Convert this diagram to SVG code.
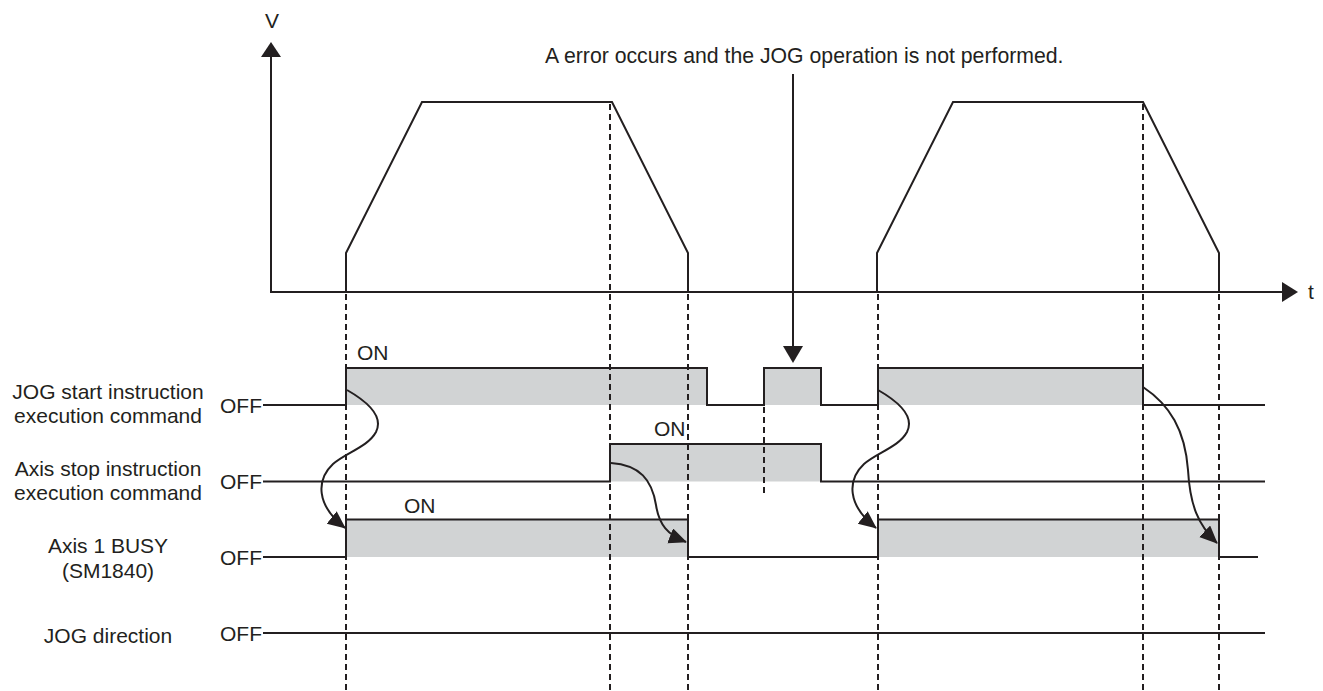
<svg xmlns="http://www.w3.org/2000/svg" width="1323" height="691" viewBox="0 0 1323 691">
<style>
text{font-family:"Liberation Sans",Arial,sans-serif;font-size:21px;fill:#231f20}
.ln{fill:none;stroke:#231f20;stroke-width:2}
.dash{fill:none;stroke:#231f20;stroke-width:2;stroke-dasharray:6,4}
.sh{fill:#d1d3d4}
.cv{fill:none;stroke:#231f20;stroke-width:2;marker-end:url(#ah)}
.lbl{text-anchor:middle}
</style>
<defs>
<marker id="ah" markerUnits="userSpaceOnUse" markerWidth="20" markerHeight="18" refX="17" refY="8" orient="auto">
<path d="M0,0 L18,8 L0,16 Z" fill="#231f20"/>
</marker>
</defs>
<rect width="1323" height="691" fill="#fff"/>
<g id="shading">
<rect class="sh" x="346" y="368" width="361" height="37"/>
<rect class="sh" x="764" y="368" width="57" height="37"/>
<rect class="sh" x="878" y="368" width="265" height="37"/>
<rect class="sh" x="610" y="444" width="211" height="37.5"/>
<rect class="sh" x="346" y="519.5" width="342" height="37.5"/>
<rect class="sh" x="878" y="519.5" width="341" height="37.5"/>
</g>
<g id="guides">
<line class="dash" x1="346" y1="294" x2="346" y2="691"/>
<line class="dash" x1="610" y1="104" x2="610" y2="691"/>
<line class="dash" x1="688" y1="294" x2="688" y2="691"/>
<line class="dash" x1="878" y1="294" x2="878" y2="691"/>
<line class="dash" x1="1143" y1="104" x2="1143" y2="691"/>
<line class="dash" x1="1219" y1="294" x2="1219" y2="691"/>
<line class="dash" x1="764" y1="407" x2="764" y2="497"/>
</g>
<g id="axes">
<path class="ln" d="M271,292 V56 M270,292 H1283"/>
<polygon points="271,42 261,57 281,57" fill="#231f20"/>
<polygon points="1298,292 1282,282 1282,302" fill="#231f20"/>
<text x="272" y="28" class="lbl">V</text>
<text x="1308" y="299">t</text>
</g>
<g id="speed">
<path class="ln" d="M346,292 V253 L422,102 H612 L688,253 V292"/>
<path class="ln" d="M877,292 V253 L953,102 H1143 L1219,253 V292"/>
</g>
<g id="sig-jog-start">
<path class="ln" d="M263,405 H346 V368 H707 V405 H764 V368 H821 V405 H878 V368 H1143 V405 H1265"/>
<text x="108" y="399" class="lbl">JOG start instruction</text>
<text x="108" y="423" class="lbl">execution command</text>
<text x="220" y="413">OFF</text>
<text x="357" y="360">ON</text>
</g>
<g id="sig-axis-stop">
<path class="ln" d="M263,481.5 H610 V444 H821 V481.5 H1265"/>
<text x="108" y="476" class="lbl">Axis stop instruction</text>
<text x="108" y="500" class="lbl">execution command</text>
<text x="220" y="489">OFF</text>
<text x="654" y="436">ON</text>
</g>
<g id="sig-busy">
<path class="ln" d="M263,557 H346 V519.5 H688 V557 H878 V519.5 H1219 V557 H1258"/>
<text x="108" y="553" class="lbl">Axis 1 BUSY</text>
<text x="108" y="578" class="lbl">(SM1840)</text>
<text x="220" y="565">OFF</text>
<text x="404" y="513">ON</text>
</g>
<g id="sig-jog-dir">
<path class="ln" d="M263,633 H1265"/>
<text x="108" y="643" class="lbl">JOG direction</text>
<text x="220" y="641">OFF</text>
</g>
<g id="note">
<text x="545" y="63" style="font-size:21.25px">A error occurs and the JOG operation is not performed.</text>
</g>
<g id="connectors">
<path class="ln" d="M793,74 V348"/>
<polygon points="793,363 783,346 803,346" fill="#231f20"/>
<path class="cv" d="M347,390 C368,402 384,416 376,432 C368,447 345,453 333,464 C316,480 316,505 345,528"/>
<path class="cv" d="M878,390 C899,402 915,416 907,432 C899,447 876,453 864,464 C847,480 847,505 876,528"/>
<path class="cv" d="M611,463 C640,465 652,480 656,505 C659,525 668,535 686,542"/>
<path class="cv" d="M1143,387 C1170,405 1185,430 1188,470 C1190,505 1198,525 1217,543"/>
</g>
</svg>
